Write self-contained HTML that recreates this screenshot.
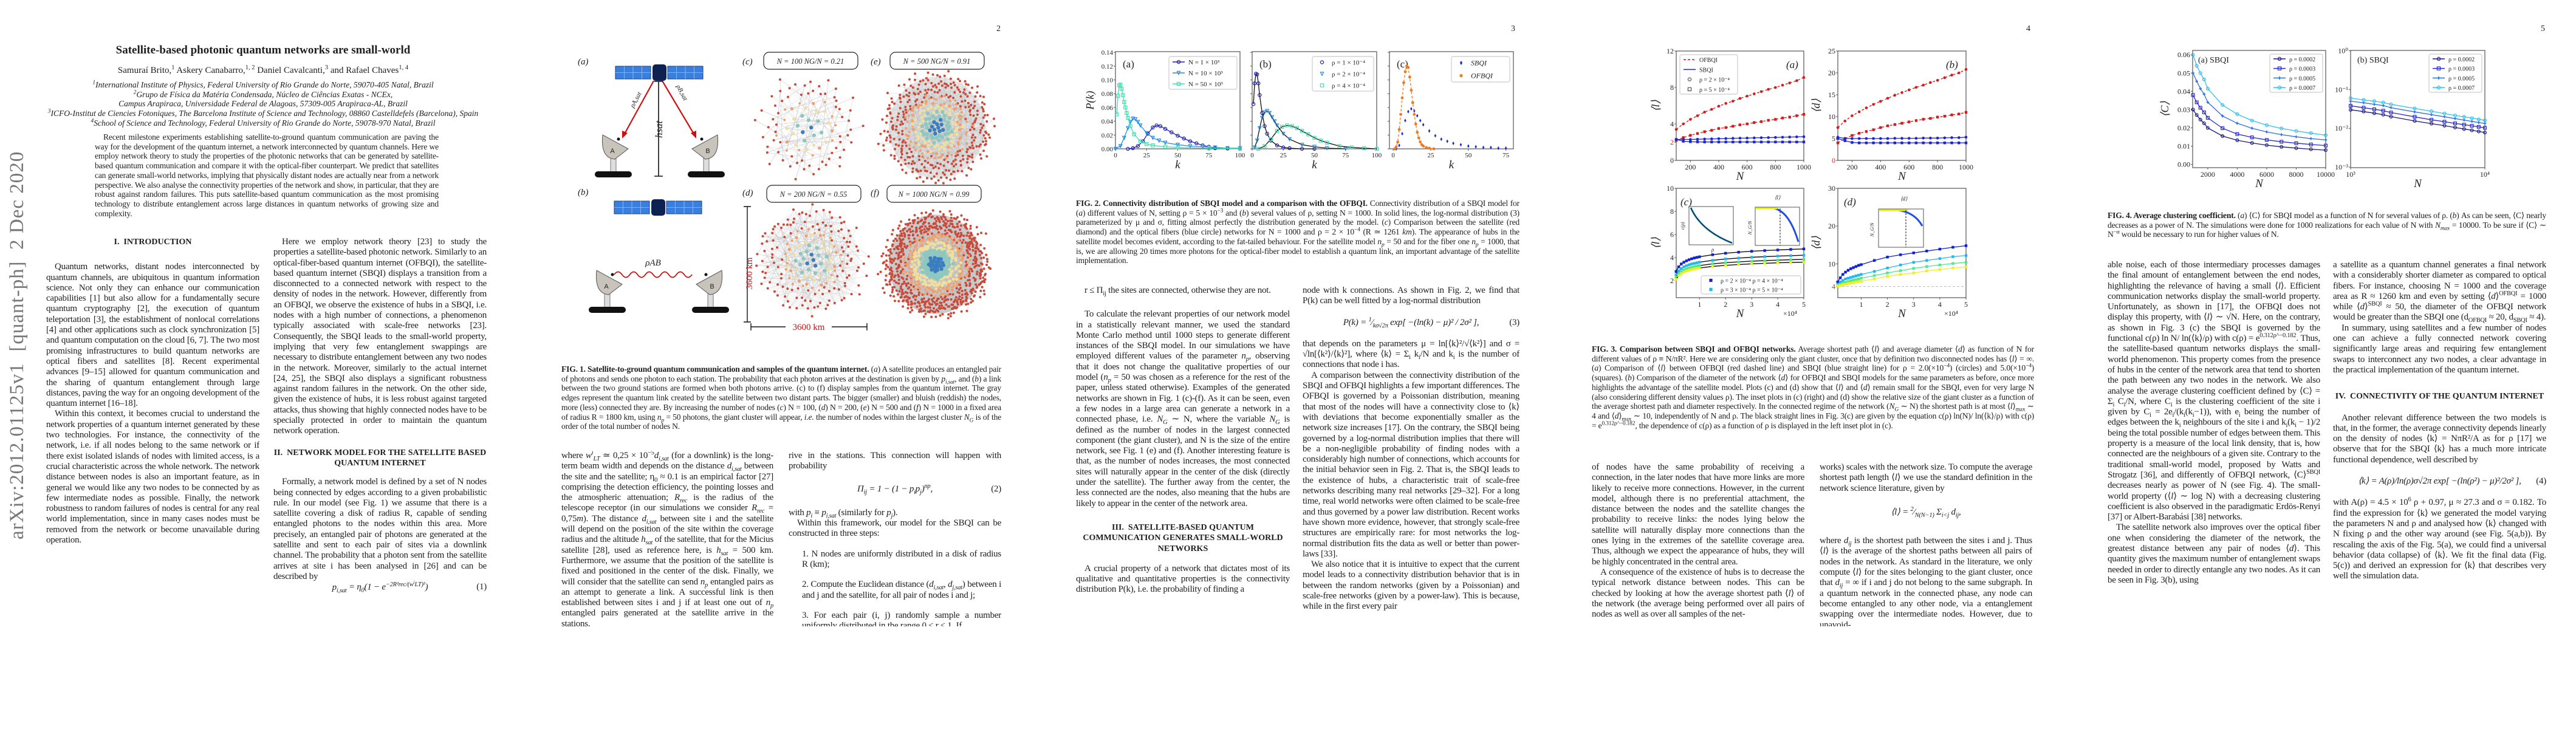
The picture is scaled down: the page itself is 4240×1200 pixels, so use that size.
<!DOCTYPE html>
<html><head><meta charset="utf-8"><title>Satellite-based photonic quantum networks are small-world</title>
<style>
html,body{margin:0;padding:0;background:#fff;}
body{width:4240px;height:1200px;position:relative;overflow:hidden;font-family:"Liberation Serif",serif;color:#1e1e1e;}
.abs{position:absolute;}
sup,sub{line-height:0;font-size:70%;}
.col{position:absolute;font-size:15px;line-height:17.3px;text-align:justify;hyphens:auto;overflow:hidden;letter-spacing:-0.25px;}
.col p{margin:0;text-indent:14px;}
.cap{position:absolute;font-size:13.6px;line-height:15.7px;text-align:justify;overflow:hidden;letter-spacing:-0.2px;}
.head{text-align:center;font-weight:bold;font-size:14px;margin:14px 0 12px 0;text-indent:0 !important;letter-spacing:0;}
.eq{text-align:center;margin:12px 0;text-indent:0 !important;font-style:italic;position:relative;}
.eq span{position:absolute;right:0;font-style:normal;}
.pn{position:absolute;top:40px;font-size:14px;}
i{font-style:italic;}
</style></head>
<body>
<svg id="figures" class="abs" style="left:0;top:0" width="4240" height="1200" viewBox="0 0 4240 1200" font-family="Liberation Serif, serif"></svg>

<!-- PAGE 1 -->
<div class="abs" style="left:-230px;top:608px;width:520px;height:40px;transform:rotate(-90deg);font-size:33px;color:#777;text-align:center;white-space:nowrap;letter-spacing:1px;">arXiv:2012.01125v1 &nbsp;[quant-ph] &nbsp;2 Dec 2020</div>
<div class="abs" style="left:100px;top:72px;width:666px;text-align:center;font-weight:bold;font-size:19px;">Satellite-based photonic quantum networks are small-world</div>
<div class="abs" style="left:100px;top:108px;width:666px;text-align:center;font-size:15px;">Samuraí Brito,<sup>1</sup> Askery Canabarro,<sup>1, 2</sup> Daniel Cavalcanti,<sup>3</sup> and Rafael Chaves<sup>1, 4</sup></div>
<div class="abs" style="left:60px;top:132px;width:746px;text-align:center;font-size:13.5px;line-height:15.7px;font-style:italic;">
<sup>1</sup>International Institute of Physics, Federal University of Rio Grande do Norte, 59070-405 Natal, Brazil<br>
<sup>2</sup>Grupo de Física da Matéria Condensada, Núcleo de Ciências Exatas - NCEx,<br>
Campus Arapiraca, Universidade Federal de Alagoas, 57309-005 Arapiraca-AL, Brazil<br>
<sup>3</sup>ICFO-Institut de Ciencies Fotoniques, The Barcelona Institute of Science and Technology, 08860 Castelldefels (Barcelona), Spain<br>
<sup>4</sup>School of Science and Technology, Federal University of Rio Grande do Norte, 59078-970 Natal, Brazil</div>
<div class="cap" style="left:156px;top:218px;width:566px;height:145px;text-indent:14px;">Recent milestone experiments establishing satellite-to-ground quantum communication are paving the way for the development of the quantum internet, a network interconnected by quantum channels. Here we employ network theory to study the properties of the photonic networks that can be generated by satellite-based quantum communication and compare it with the optical-fiber counterpart. We predict that satellites can generate small-world networks, implying that physically distant nodes are actually near from a network perspective. We also analyse the connectivity properties of the network and show, in particular, that they are robust against random failures. This puts satellite-based quantum communication as the most promising technology to distribute entanglement across large distances in quantum networks of growing size and complexity.</div>

<div class="col" style="left:76px;top:386px;width:351px;height:645px;">
<p class="head" style="margin-top:4px;margin-bottom:24px;">I. &nbsp;INTRODUCTION</p>
<p>Quantum networks, distant nodes interconnected by quantum channels, are ubiquitous in quantum information science. Not only they can enhance our communication capabilities [1] but also allow for a fundamentally secure quantum cryptography [2], the execution of quantum teleportation [3], the establishment of nonlocal correlations [4] and other applications such as clock synchronization [5] and quantum computation on the cloud [6, 7]. The two most promising infrastructures to build quantum networks are optical fibers and satellites [8]. Recent experimental advances [9–15] allowed for quantum communication and the sharing of quantum entanglement through large distances, paving the way for an ongoing development of the quantum internet [16–18].</p>
<p>Within this context, it becomes crucial to understand the network properties of a quantum internet generated by these two technologies. For instance, the connectivity of the network, i.e. if all nodes belong to the same network or if there exist isolated islands of nodes with limited access, is a crucial characteristic across the whole network. The network distance between nodes is also an important feature, as in general we would like any two nodes to be connected by as few intermediate nodes as possible. Finally, the network robustness to random failures of nodes is central for any real world implementation, since in many cases nodes must be removed from the network or become unavailable during operation.</p>
</div>

<div class="col" style="left:450px;top:390px;width:351px;height:641px;">
<p>Here we employ network theory [23] to study the properties a satellite-based photonic network. Similarly to an optical-fiber-based quantum internet (OFBQI), the satellite-based quantum internet (SBQI) displays a transition from a disconnected to a connected network with respect to the density of nodes in the network. However, differently from an OFBQI, we observe the existence of hubs in a SBQI, i.e. nodes with a high number of connections, a phenomenon typically associated with scale-free networks [23]. Consequently, the SBQI leads to the small-world property, implying that very few entanglement swappings are necessary to distribute entanglement between any two nodes in the network. Moreover, similarly to the actual internet [24, 25], the SBQI also displays a significant robustness against random failures in the network. On the other side, given the existence of hubs, it is less robust against targeted attacks, thus showing that highly connected nodes have to be specially protected in order to maintain the quantum network operation.</p>
<p class="head" style="margin-top:18px;margin-bottom:14px;">II. &nbsp;NETWORK MODEL FOR THE SATELLITE BASED QUANTUM INTERNET</p>
<p>Formally, a network model is defined by a set of N nodes being connected by edges according to a given probabilistic rule. In our model (see Fig. 1) we assume that there is a satellite covering a disk of radius R, capable of sending entangled photons to the nodes within this area. More precisely, an entangled pair of photons are generated at the satellite and sent to each pair of sites via a downlink channel. The probability that a photon sent from the satellite arrives at site i has been analysed in [26] and can be described by</p>
<p class="eq"><i>p<sub>i,sat</sub></i> = η<sub>0</sub>(1 − <i>e</i><sup>−2R²rec/(w<sup>i</sup>LT)²</sup>) <span>(1)</span></p>
</div>

<!-- PAGE 2 -->
<div class="pn" style="left:1640px;">2</div>
<div class="cap" style="left:924px;top:600px;width:724px;height:128px;"><b>FIG. 1. Satellite-to-ground quantum communication and samples of the quantum internet.</b> (<i>a</i>) A satellite produces an entangled pair of photons and sends one photon to each station. The probability that each photon arrives at the destination is given by <i>p<sub>i,sat</sub></i>, and (<i>b</i>) a link between the two ground stations are formed when both photons arrive. (c) to (f) display samples from the quantum internet. The gray edges represent the quantum link created by the satellite between two distant parts. The bigger (smaller) and bluish (reddish) the nodes, more (less) connected they are. By increasing the number of nodes (<i>c</i>) N = 100, (<i>d</i>) N = 200, (<i>e</i>) N = 500 and (<i>f</i>) N = 1000 in a fixed area of radius R = 1800 km, using <i>n<sub>p</sub></i> = 50 photons, the giant cluster will appear, <i>i.e.</i> the number of nodes within the largest cluster <i>N<sub>G</sub></i> is of the order of the total number of nodes N.</div>
<div class="col" style="left:924px;top:742px;width:349px;height:289px;">
<p style="text-indent:0">where <i>w<sup>i</sup><sub>LT</sub></i> ≃ 0,25 × 10<sup>−5</sup><i>d<sub>i,sat</sub></i> (for a downlink) is the long-term beam width and depends on the distance <i>d<sub>i,sat</sub></i> between the site and the satellite; η<sub>0</sub> ≈ 0.1 is an empirical factor [27] comprising the detection efficiency, the pointing losses and the atmospheric attenuation; <i>R<sub>rec</sub></i> is the radius of the telescope receptor (in our simulations we consider <i>R<sub>rec</sub></i> = 0,75<i>m</i>). The distance <i>d<sub>i,sat</sub></i> between site i and the satellite will depend on the position of the site within the coverage radius and the altitude <i>h<sub>sat</sub></i> of the satellite, that for the Micius satellite [28], used as reference here, is <i>h<sub>sat</sub></i> = 500 km. Furthermore, we assume that the position of the satellite is fixed and positioned in the center of the disk. Finally, we will consider that the satellite can send <i>n<sub>p</sub></i> entangled pairs as an attempt to generate a link. A successful link is then established between sites i and j if at least one out of <i>n<sub>p</sub></i> entangled pairs generated at the satellite arrive in the stations.</p>
</div>
<div class="col" style="left:1298px;top:742px;width:350px;height:289px;">
<p style="text-indent:0">rive in the stations. This connection will happen with probability</p>
<p class="eq" style="margin:20px 0 22px 0">Π<sub>ij</sub> = 1 − (1 − <i>p<sub>i</sub>p<sub>j</sub></i>)<sup><i>np</i></sup>, <span>(2)</span></p>
<p style="text-indent:0">with <i>p<sub>i</sub></i> ≡ <i>p<sub>i,sat</sub></i> (similarly for <i>p<sub>j</sub></i>).</p>
<p>Within this framework, our model for the SBQI can be constructed in three steps:</p>
<p style="text-indent:0;margin:16px 0 0 22px;">1. N nodes are uniformly distributed in a disk of radius R (km);</p>
<p style="text-indent:0;margin:16px 0 0 22px;">2. Compute the Euclidean distance (<i>d<sub>i,sat</sub></i>, <i>d<sub>j,sat</sub></i>) between i and j and the satellite, for all pair of nodes i and j;</p>
<p style="text-indent:0;margin:16px 0 0 22px;">3. For each pair (i, j) randomly sample a number uniformly distributed in the range 0 ≤ r ≤ 1. If</p>
</div>

<!-- PAGE 3 -->
<div class="pn" style="left:2487px;">3</div>
<div class="cap" style="left:1771px;top:327px;width:730px;height:112px;"><b>FIG. 2. Connectivity distribution of SBQI model and a comparison with the OFBQI.</b> Connectivity distribution of a SBQI model for (<i>a</i>) different values of N, setting ρ = 5 × 10<sup>−3</sup> and (<i>b</i>) several values of ρ, setting N = 1000. In solid lines, the log-normal distribution (3) parameterized by μ and σ, fitting almost perfectly the distribution generated by the model. (<i>c</i>) Comparison between the satellite (red diamond) and the optical fibers (blue circle) networks for N = 1000 and ρ = 2 × 10<sup>−4</sup> (R ≃ 1261 <i>km</i>). The appearance of hubs in the satellite model becomes evident, according to the fat-tailed behaviour. For the satellite model <i>n<sub>p</sub></i> = 50 and for the fiber one <i>n<sub>p</sub></i> = 1000, that is, we are allowing 20 times more photons for the optical-fiber model to establish a quantum link, an important advantage of the satellite implementation.</div>
<div class="col" style="left:1771px;top:470px;width:352px;height:561px;">
<p>r ≤ Π<sub>ij</sub> the sites are connected, otherwise they are not.</p>
<p style="margin-top:22px">To calculate the relevant properties of our network model in a statistically relevant manner, we used the standard Monte Carlo method until 1000 steps to generate different instances of the SBQI model. In our simulations we have employed different values of the parameter <i>n<sub>p</sub></i>, observing that it does not change the qualitative properties of our model (<i>n<sub>p</sub></i> = 50 was chosen as a reference for the rest of the paper, unless stated otherwise). Examples of the generated networks are shown in Fig. 1 (c)-(f). As it can be seen, even a few nodes in a large area can generate a network in a connected phase, i.e. <i>N<sub>G</sub></i> ∼ N, where the variable <i>N<sub>G</sub></i> is defined as the number of nodes in the largest connected component (the giant cluster), and N is the size of the entire network, see Fig. 1 (e) and (f). Another interesting feature is that, as the number of nodes increases, the most connected sites will naturally appear in the center of the disk (directly under the satellite). The further away from the center, the less connected are the nodes, also meaning that the hubs are likely to appear in the center of the network area.</p>
<p class="head" style="margin-top:22px;margin-bottom:16px;">III. &nbsp;SATELLITE-BASED QUANTUM COMMUNICATION GENERATES SMALL-WORLD NETWORKS</p>
<p>A crucial property of a network that dictates most of its qualitative and quantitative properties is the connectivity distribution P(k), i.e. the probability of finding a</p>
</div>
<div class="col" style="left:2144px;top:470px;width:357px;height:561px;">
<p style="text-indent:0">node with k connections. As shown in Fig. 2, we find that P(k) can be well fitted by a log-normal distribution</p>
<p class="eq" style="margin:18px 0 18px 0">P(k) = <sup>1</sup>⁄<sub>kσ√2π</sub> exp[ −(ln(k) − μ)² / 2σ² ], <span>(3)</span></p>
<p style="text-indent:0">that depends on the parameters μ = ln[⟨k⟩²/√⟨k²⟩] and σ = √ln[⟨k²⟩/⟨k⟩²], where ⟨k⟩ = Σ<sub>i</sub> k<sub>i</sub>/N and k<sub>i</sub> is the number of connections that node i has.</p>
<p>A comparison between the connectivity distribution of the SBQI and OFBQI highlights a few important differences. The OFBQI is governed by a Poissonian distribution, meaning that most of the nodes will have a connectivity close to ⟨k⟩ with deviations that become exponentially smaller as the network size increases [17]. On the contrary, the SBQI being governed by a log-normal distribution implies that there will be a non-negligible probability of finding nodes with a considerably high number of connections, which accounts for the initial behavior seen in Fig. 2. That is, the SBQI leads to the existence of hubs, a characteristic trait of scale-free networks describing many real networks [29–32]. For a long time, real world networks were often claimed to be scale-free and thus governed by a power law distribution. Recent works have shown more evidence, however, that strongly scale-free structures are empirically rare: for most networks the log-normal distribution fits the data as well or better than power-laws [33].</p>
<p>We also notice that it is intuitive to expect that the current model leads to a connectivity distribution behavior that is in between the random networks (given by a Poissonian) and scale-free networks (given by a power-law). This is because, while in the first every pair</p>
</div>

<!-- PAGE 4 -->
<div class="pn" style="left:3335px;">4</div>
<div class="cap" style="left:2620px;top:567px;width:728px;height:162px;"><b>FIG. 3. Comparison between SBQI and OFBQI networks.</b> Average shortest path ⟨<i>l</i>⟩ and average diameter ⟨<i>d</i>⟩ as function of N for different values of ρ ≡ N/πR². Here we are considering only the giant cluster, once that by definition two disconnected nodes has ⟨<i>l</i>⟩ = ∞. (<i>a</i>) Comparison of ⟨<i>l</i>⟩ between OFBQI (red dashed line) and SBQI (blue straight line) for ρ = 2.0(×10<sup>−4</sup>) (circles) and 5.0(×10<sup>−4</sup>) (squares). (<i>b</i>) Comparison of the diameter of the network ⟨<i>d</i>⟩ for OFBQI and SBQI models for the same parameters as before, once more highlights the advantage of the satellite model. Plots (c) and (d) show that ⟨<i>l</i>⟩ and ⟨<i>d</i>⟩ remain small for the SBQI, even for very large N (also considering different density values ρ). The inset plots in (c) (right) and (d) show the relative size of the giant cluster as a function of the average shortest path and diameter respectively. In the connected regime of the network (<i>N<sub>G</sub></i> ∼ N) the shortest path is at most ⟨<i>l</i>⟩<sub>max</sub> ∼ 4 and ⟨<i>d</i>⟩<sub>max</sub> ∼ 10, independently of N and ρ. The black straight lines in Fig. 3(c) are given by the equation c(ρ) ln(N)/ ln(⟨k⟩/ρ) with c(ρ) = e<sup>0.312ρ^−0.182</sup>, the dependence of c(ρ) as a function of ρ is displayed in the left inset plot in (c).</div>
<div class="col" style="left:2620px;top:761px;width:350px;height:270px;">
<p style="text-indent:0">of nodes have the same probability of receiving a connection, in the later nodes that have more links are more likely to receive more connections. However, in the current model, although there is no preferential attachment, the distance between the nodes and the satellite changes the probability to receive links: the nodes lying below the satellite will naturally display more connections than the ones lying in the extremes of the satellite coverage area. Thus, although we expect the appearance of hubs, they will be highly concentrated in the central area.</p>
<p>A consequence of the existence of hubs is to decrease the typical network distance between nodes. This can be checked by looking at how the average shortest path ⟨<i>l</i>⟩ of the network (the average being performed over all pairs of nodes as well as over all samples of the net-</p>
</div>
<div class="col" style="left:2995px;top:761px;width:350px;height:270px;">
<p style="text-indent:0">works) scales with the network size. To compute the average shortest path length ⟨<i>l</i>⟩ we use the standard definition in the network science literature, given by</p>
<p class="eq" style="margin:22px 0 30px 0">⟨<i>l</i>⟩ = <sup>2</sup>⁄<sub>N(N−1)</sub> Σ<sub>i&lt;j</sub> <i>d<sub>ij</sub></i>,</p>
<p style="text-indent:0">where <i>d<sub>ij</sub></i> is the shortest path between the sites i and j. Thus ⟨<i>l</i>⟩ is the average of the shortest paths between all pairs of nodes in the network. As standard in the literature, we only compute ⟨<i>l</i>⟩ for the sites belonging to the giant cluster, once that <i>d<sub>ij</sub></i> = ∞ if i and j do not belong to the same subgraph. In a quantum network in the connected phase, any node can become entangled to any other node, via a entanglement swapping over the intermediate nodes. However, due to unavoid-</p>
</div>

<!-- PAGE 5 -->
<div class="pn" style="left:4182px;">5</div>
<div class="cap" style="left:3469px;top:347px;width:722px;height:50px;"><b>FIG. 4. Average clustering coefficient.</b> (<i>a</i>) ⟨C⟩ for SBQI model as a function of N for several values of ρ. (<i>b</i>) As can be seen, ⟨C⟩ nearly decreases as a power of N. The simulations were done for 1000 realizations for each value of N with <i>N<sub>max</sub></i> = 10000. To be sure if ⟨C⟩ ∼ N<sup>−α</sup> would be necessary to run for higher values of N.</div>
<div class="col" style="left:3469px;top:428px;width:350px;height:603px;">
<p style="text-indent:0">able noise, each of those intermediary processes damages the final amount of entanglement between the end nodes, highlighting the relevance of having a small ⟨<i>l</i>⟩. Efficient communication networks display the small-world property. Unfortunately, as shown in [17], the OFBQI does not display this property, with ⟨<i>l</i>⟩ ∼ √N. Here, on the contrary, as shown in Fig. 3 (c) the SBQI is governed by the functional c(ρ) ln N/ ln(⟨k⟩/ρ) with c(ρ) = e<sup>0.312ρ^−0.182</sup>. Thus, the satellite-based quantum networks displays the small-world phenomenon. This property comes from the presence of hubs in the center of the network area that tend to shorten the path between any two nodes in the network. We also analyse the average clustering coefficient defined by ⟨C⟩ = Σ<sub>i</sub> C<sub>i</sub>/N, where C<sub>i</sub> is the clustering coefficient of the site i given by C<sub>i</sub> = 2e<sub>i</sub>/(k<sub>i</sub>(k<sub>i</sub>−1)), with e<sub>i</sub> being the number of edges between the k<sub>i</sub> neighbours of the site i and k<sub>i</sub>(k<sub>i</sub> − 1)/2 being the total possible number of edges between them. This property is a measure of the local link density, that is, how connected are the neighbours of a given site. Contrary to the traditional small-world model, proposed by Watts and Strogatz [36], and differently of OFBQI network, ⟨C⟩<sup>SBQI</sup> decreases nearly as power of N (see Fig. 4). The small-world property (⟨<i>l</i>⟩ ∼ log N) with a decreasing clustering coefficient is also observed in the paradigmatic Erdös-Renyi [37] or Albert-Barabási [38] networks.</p>
<p>The satellite network also improves over the optical fiber one when considering the diameter of the network, the greatest distance between any pair of nodes ⟨<i>d</i>⟩. This quantity gives the maximum number of entanglement swaps needed in order to directly entangle any two nodes. As it can be seen in Fig. 3(b), using</p>
</div>
<div class="col" style="left:3840px;top:428px;width:351px;height:603px;">
<p style="text-indent:0">a satellite as a quantum channel generates a final network with a considerably shorter diameter as compared to optical fibers. For instance, choosing N = 1000 and the coverage area as R ≈ 1260 km and even by setting ⟨<i>d</i>⟩<sup>OFBQI</sup> = 1000 while ⟨<i>d</i>⟩<sup>SBQI</sup> ≈ 50, the diameter of the OFBQI network would be greater than the SBQI one (d<sub>OFBQI</sub> ≈ 20, d<sub>SBQI</sub> ≈ 4).</p>
<p>In summary, using satellites and a few number of nodes one can achieve a fully connected network covering significantly large areas and requiring few entanglement swaps to interconnect any two nodes, a clear advantage in the practical implementation of the quantum internet.</p>
<p class="head" style="margin-top:26px;margin-bottom:18px;">IV. &nbsp;CONNECTIVITY OF THE QUANTUM INTERNET</p>
<p>Another relevant difference between the two models is that, in the former, the average connectivity depends linearly on the density of nodes ⟨k⟩ = NπR²/A as for ρ [17] we observe that for the SBQI ⟨k⟩ has a much more intricate functional dependence, well described by</p>
<p class="eq" style="margin:18px 0 18px 0">⟨k⟩ = A(ρ)/ln(ρ)σ√2π exp[ −(ln(ρ²) − μ)²/2σ² ], <span>(4)</span></p>
<p style="text-indent:0">with A(ρ) = 4.5 × 10<sup>6</sup> ρ + 0.97, μ ≈ 27.3 and σ = 0.182. To find the expression for ⟨k⟩ we generated the model varying the parameters N and ρ and analysed how ⟨k⟩ changed with N fixing ρ and the other way around (see Fig. 5(a,b)). By rescaling the axis of the Fig. 5(a), we could find a universal behavior (data collapse) of ⟨k⟩. We fit the final data (Fig. 5(c)) and derived an expression for ⟨k⟩ that describes very well the simulation data.</p>
</div>

<script>
// ================= DATA =================
const f2a_k1 = [10,14,18,22,26,30,33,36,40,45,50,55,60,65,70,75,80,90,100];
const f2a_p1 = [0,0.001,0.004,0.011,0.022,0.031,0.034,0.033,0.029,0.024,0.019,0.015,0.011,0.008,0.005,0.003,0.001,0.0005,0];
const f2a_k2 = [0,4,7,10,12,14,16,18,20,25,30,35,40,50,60,70,80,90,100];
const f2a_p2 = [0,0.004,0.016,0.03,0.039,0.044,0.043,0.039,0.034,0.023,0.016,0.012,0.009,0.006,0.004,0.003,0.002,0.001,0.001];
const f2a_k3 = [1,2,3,4,5,6,7,8,9,10,12,15,20,25,30,40,50,75,100];
const f2a_p3 = [0.05,0.077,0.092,0.093,0.087,0.078,0.068,0.06,0.052,0.045,0.033,0.021,0.011,0.007,0.005,0.003,0.002,0.001,0];
const f2b_k1 = [1,2,3,4,5,6,8,10,12,15,20,25,30,40,50];
const f2b_p1 = [0.065,0.095,0.109,0.108,0.095,0.078,0.052,0.033,0.022,0.012,0.005,0.002,0.001,0,0];
const f2b_k2 = [2,4,6,8,10,12,14,16,18,20,25,30,40,50,60,75];
const f2b_p2 = [0.002,0.012,0.03,0.045,0.053,0.055,0.052,0.046,0.04,0.034,0.022,0.014,0.006,0.003,0.001,0];
const f2b_k3 = [5,10,15,20,24,28,32,36,40,45,50,55,60,70,80,90,100];
const f2b_p3 = [0.0,0.004,0.014,0.026,0.032,0.034,0.033,0.03,0.026,0.021,0.016,0.012,0.009,0.004,0.002,0.001,0];
const f2c_k_s = [2,4,6,8,10,12,14,16,18,20,24,28,32,36,40,45,50,55,60,65,70,75];
const f2c_p_s = [0,0.005,0.022,0.041,0.054,0.058,0.055,0.048,0.041,0.035,0.026,0.019,0.014,0.011,0.008,0.006,0.004,0.003,0.002,0.002,0.001,0.001];
const f2c_k_o = [1,2,3,4,5,6,7,8,9,10,11,12,13,14,15,16,17,18,19,20,22,24,27];
const f2c_p_o = [0,0.003,0.01,0.028,0.05,0.074,0.096,0.112,0.12,0.118,0.104,0.085,0.067,0.05,0.036,0.024,0.016,0.01,0.006,0.004,0.002,0.001,0];
const f3_N = [100,150,200,250,300,350,400,450,500,550,600,650,700,750,800,850,900,950,1000];
const f3a_of_c = [3.4,4.0,4.5,4.9,5.3,5.6,5.95,6.25,6.5,6.8,7.05,7.3,7.55,7.8,8.0,8.25,8.5,8.75,9.1];
const f3a_of_s = [2.2,2.5,2.75,2.95,3.15,3.3,3.5,3.6,3.75,3.9,4.0,4.15,4.25,4.4,4.5,4.65,4.75,4.9,5.05];
const f3a_sb_c = [2.3,2.3,2.3,2.32,2.34,2.36,2.38,2.4,2.42,2.44,2.45,2.47,2.49,2.5,2.52,2.54,2.56,2.58,2.6];
const f3a_sb_s = [2.3,2.1,2.05,2.03,2.02,2.02,2.02,2.02,2.02,2.02,2.02,2.02,2.02,2.02,2.02,2.02,2.02,2.02,2.02];
const f3b_of_c = [7.5,9.0,10.2,11.1,12.0,12.8,13.5,14.2,14.9,15.5,16.1,16.7,17.2,17.8,18.3,18.9,19.5,20.0,20.8];
const f3b_of_s = [4.0,5.0,5.7,6.2,6.6,7.0,7.5,7.9,8.2,8.5,8.8,9.1,9.4,9.6,9.9,10.1,10.4,10.6,11.0];
const f3b_sb_c = [5.3,5.0,5.0,5.0,5.0,5.0,5.0,5.0,5.05,5.05,5.05,5.05,5.1,5.1,5.1,5.15,5.2,5.2,5.3];
const f3b_sb_s = [5.0,4.5,4.1,4.0,4.0,4.0,4.0,4.0,4.0,4.0,4.0,4.0,4.0,4.0,4.0,4.0,4.0,4.0,4.0];
const f3_Nbig = [1000,2000,3000,4000,5000,6000,7000,8000,9000,10000,15000,20000,25000,30000,35000,40000,45000,50000];
const f3c_r2 = [2.8,3.2,3.45,3.6,3.72,3.82,3.9,3.97,4.02,4.07,4.25,4.38,4.47,4.55,4.61,4.66,4.71,4.75];
const f3c_r3 = [2.5,2.85,3.05,3.2,3.3,3.38,3.45,3.5,3.55,3.6,3.76,3.88,3.96,4.03,4.08,4.13,4.17,4.2];
const f3c_r4 = [2.3,2.62,2.8,2.93,3.03,3.1,3.16,3.22,3.27,3.31,3.46,3.56,3.63,3.69,3.74,3.78,3.82,3.85];
const f3c_r5 = [2.1,2.45,2.62,2.75,2.84,2.91,2.97,3.02,3.06,3.1,3.24,3.33,3.4,3.46,3.51,3.55,3.58,3.6];
const f3d_r2 = [5.2,6.3,7.2,7.8,8.3,8.7,9.0,9.3,9.6,9.8,10.9,11.8,12.4,12.9,13.4,13.9,14.4,14.8];
const f3d_r3 = [4.6,5.2,5.6,6.0,6.2,6.4,6.6,6.8,7.0,7.2,8.0,8.9,9.7,10.4,10.9,11.4,11.9,12.2];
const f3d_r4 = [4.3,4.6,4.9,5.1,5.3,5.5,5.7,5.8,6.0,6.2,6.9,7.6,8.2,8.8,9.3,9.7,10.1,10.4];
const f3d_r5 = [4.1,4.3,4.5,4.6,4.8,4.9,5.0,5.2,5.3,5.4,6.0,6.7,7.2,7.6,8.1,8.5,8.9,9.2];
const f4_N = [1000,1250,1500,1750,2000,3000,4000,5000,6000,7000,8000,9000,10000];
const f4_r2 = [0.030,0.027,0.0245,0.0225,0.020,0.0155,0.0132,0.0117,0.0105,0.0096,0.0089,0.0083,0.0078];
const f4_r3 = [0.038,0.034,0.031,0.0285,0.0255,0.0198,0.0166,0.0148,0.0134,0.0124,0.0116,0.0109,0.0103];
const f4_r5 = [0.050,0.0455,0.0415,0.0385,0.034,0.0265,0.0225,0.0198,0.0178,0.0163,0.0151,0.0141,0.0134];
const f4_r7 = [0.060,0.054,0.050,0.0465,0.0415,0.0325,0.0275,0.024,0.0215,0.0197,0.0183,0.0171,0.016];
const f2_yticks = [0,0.02,0.04,0.06,0.08,0.10,0.12,0.14];
const f2_ytl = ['0.00','0.02','0.04','0.06','0.08','0.10','0.12','0.14'];
const f2ab_xticks = [0,25,50,75,100];
const f2c_xticks = [0,25,50,75];
const f3a_yticks = [0,2,4,8,12];
const f3b_yticks = [0,5,10,15,20,25];
const f3ab_xticks = [200,400,600,800,1000];
const f3c_yticks = [2,4,6,8,10];
const f3d_yticks = [4,10,20,30];
const f3cd_xticks = [10000,20000,30000,40000,50000];
const f3cd_xtl = ['1','2','3','4','5'];
const f4a_yticks = [0,0.01,0.02,0.03,0.04,0.05,0.06];
const f4a_ytl = ['0.00','0.01','0.02','0.03','0.04','0.05','0.06'];
const f4a_xticks = [2000,4000,6000,8000,10000];
const f4b_yticks = [0.001,0.01,0.1,1];
const f4b_ytl = ['10⁻³','10⁻²','10⁻¹','10⁰'];
const f4b_xticks = [1000,10000];
const f4b_xtl = ['10³','10⁴'];

// ================= DRAWING =================
const NS = 'http://www.w3.org/2000/svg';
const svg = document.getElementById('figures');
function mk(tag, a, parent) {
  const e = document.createElementNS(NS, tag);
  for (const k in a) e.setAttribute(k, a[k]);
  (parent || svg).appendChild(e);
  return e;
}
function txt(s, x, y, a, parent) {
  const t = mk('text', Object.assign({x: x, y: y, 'font-size': 11, fill: '#222'}, a || {}), parent);
  t.textContent = s;
  return t;
}
function makePanel(p) {
  const f = v => p.xlog ? Math.log10(v) : v, g = v => p.ylog ? Math.log10(v) : v;
  p.sx = v => p.x + (f(v) - f(p.xd[0])) / (f(p.xd[1]) - f(p.xd[0])) * p.w;
  p.sy = v => p.y + p.h - (g(v) - g(p.yd[0])) / (g(p.yd[1]) - g(p.yd[0])) * p.h;
  const grp = mk('g', {});
  
  
  p.g = grp;
  const fr = mk('rect', {x: p.x, y: p.y, width: p.w, height: p.h, fill: '#fff', stroke: '#555', 'stroke-width': 1.2}, grp);
  
  
  const fs = p.fs || 11;
  p.xt.forEach((t, i) => {
    const X = p.sx(t);
    mk('line', {x1: X, x2: X, y1: p.y + p.h, y2: p.y + p.h + 3, stroke: '#555'}, grp);
    if (p.xtl !== null) {
      const lab = txt(p.xtl ? p.xtl[i] : String(t), X, p.y + p.h + fs + 3, {'text-anchor': 'middle', 'font-size': fs}, grp);
      
      
    }
  });
  p.yt.forEach((t, i) => {
    const Y = p.sy(t);
    mk('line', {x1: p.x - 3, x2: p.x, y1: Y, y2: Y, stroke: '#555'}, grp);
    if (p.ytl !== null) {
      const lab = txt(p.ytl ? p.ytl[i] : String(t), p.x - 4, Y + 4, {'text-anchor': 'end', 'font-size': fs, fill: (p.redY === t ? '#d22' : '#222')}, grp);
      
      
    }
  });
  if (p.xlabel) {
    const xl = txt(p.xlabel, p.x + p.w / 2, p.y + p.h + (p.xlo || 32), {'text-anchor': 'middle', 'font-size': 19, 'font-style': 'italic'}, grp);
    
    
  }
  if (p.ylabel) {
    const yx = p.x - (p.ylo || 34), yy = p.y + p.h / 2;
    const yl = txt(p.ylabel, yx, yy, {'text-anchor': 'middle', 'font-size': 18, 'font-style': 'italic', transform: 'rotate(-90 ' + yx + ' ' + yy + ')'}, grp);
    
    
  }
  if (p.tag) {
    const tg = txt(p.tag, p.x + (p.tagx || 18), p.y + 26, {'font-size': 17}, grp);
    
    
  }
  return p;
}
function marker(g, shape, X, Y, c, r) {
  let m;
  if (shape === 'o') m = mk('circle', {cx: X, cy: Y, r: r, fill: 'none', stroke: c, 'stroke-width': 1.2}, g);
  else if (shape === 'O') m = mk('circle', {cx: X, cy: Y, r: r, fill: c}, g);
  else if (shape === 's') m = mk('rect', {x: X - r, y: Y - r, width: 2 * r, height: 2 * r, fill: 'none', stroke: c, 'stroke-width': 1.2}, g);
  else if (shape === 'S') m = mk('rect', {x: X - r, y: Y - r, width: 2 * r, height: 2 * r, fill: c}, g);
  else if (shape === 'v') m = mk('polygon', {points: (X - r) + ',' + (Y - r) + ' ' + (X + r) + ',' + (Y - r) + ' ' + X + ',' + (Y + r), fill: 'none', stroke: c, 'stroke-width': 1.2}, g);
  else if (shape === 'd') m = mk('polygon', {points: X + ',' + (Y - r * 1.4) + ' ' + (X + r * 0.8) + ',' + Y + ' ' + X + ',' + (Y + r * 1.4) + ' ' + (X - r * 0.8) + ',' + Y, fill: c}, g);
  else if (shape === '+') { m = mk('path', {d: 'M' + (X - r) + ' ' + Y + 'H' + (X + r) + 'M' + X + ' ' + (Y - r) + 'V' + (Y + r), stroke: c, 'stroke-width': 1.5}, g); }
  return m;
}
function series(p, xs, ys, st, name) {
  const g = mk('g', {}, p.g);
  
  
  if (st.line !== false) {
    const pts = xs.map((x, i) => p.sx(x).toFixed(1) + ',' + p.sy(ys[i]).toFixed(1)).join(' ');
    const pl = mk('polyline', {points: pts, fill: 'none', stroke: st.lc || st.c, 'stroke-width': st.lw || 1.3, 'stroke-dasharray': st.dash || 'none'}, g);
    
    
  }
  if (st.m) xs.forEach((x, i) => {
    const mm = marker(g, st.m, p.sx(x), p.sy(ys[i]), st.c, st.r || 2.4);
    
    
  });
}
function legend(x, y, w, h, items, fs, parent, name) {
  const g = mk('g', {}, parent);
  
  
  mk('rect', {x: x, y: y, width: w, height: h, rx: 3, fill: '#fff', stroke: '#ccc', 'stroke-width': 1.2}, g);
  const dy = h / items.length;
  items.forEach((it, i) => {
    const cy = y + dy * (i + 0.5);
    const eg = mk('g', {}, g);
    
    
    if (it.line) mk('line', {x1: x + 6, x2: x + 26, y1: cy, y2: cy, stroke: it.c, 'stroke-width': 1.6, 'stroke-dasharray': it.dash || 'none'}, eg);
    if (it.m) marker(eg, it.m, x + 16, cy, it.c, 2.6);
    txt(it.t, x + 32, cy + 4, {'font-size': fs, 'font-style': it.it ? 'italic' : 'normal'}, eg);
  });
}

// ---- Fig 2 ----
const C1 = '#1f1fb4', C2 = '#2a8ee0', C3 = '#40e0b0', ORG = '#f07a20';
const p2a = makePanel({name: 'fig2a-panel', x: 1836, y: 85, w: 205, h: 160, xd: [0, 100], yd: [0, 0.141], xt: f2ab_xticks, yt: f2_yticks, ytl: f2_ytl, xlabel: 'k', ylabel: 'P(k)', ylo: 36, tag: '(a)', tagx: 12});
series(p2a, f2a_k1, f2a_p1, {c: C1, m: 'o', r: 2.6}, 'series-N-1e3');
series(p2a, f2a_k2, f2a_p2, {c: C2, m: 'v', r: 2.6}, 'series-N-10e3');
series(p2a, f2a_k3, f2a_p3, {c: C3, m: 's', r: 2.6}, 'series-N-50e3');
legend(1924, 93, 112, 54, [{t: 'N = 1 × 10³', c: C1, m: 'o', line: true}, {t: 'N = 10 × 10³', c: C2, m: 'v', line: true}, {t: 'N = 50 × 10³', c: C3, m: 's', line: true}], 11, p2a.g, 'fig2a-legend');
const p2b = makePanel({name: 'fig2b-panel', x: 2061, y: 85, w: 205, h: 160, xd: [0, 100], yd: [0, 0.141], xt: f2ab_xticks, yt: f2_yticks, ytl: null, xlabel: 'k', tag: '(b)', tagx: 12});
series(p2b, f2b_k1, f2b_p1, {c: C1, m: 'o', r: 2.6, lc: '#111'}, 'series-rho-1e-4');
series(p2b, f2b_k2, f2b_p2, {c: C2, m: 'v', r: 2.6, lc: '#111'}, 'series-rho-2e-4');
series(p2b, f2b_k3, f2b_p3, {c: C3, m: 's', r: 2.6, lc: '#111'}, 'series-rho-4e-4');
legend(2160, 93, 101, 57, [{t: 'ρ = 1 × 10⁻⁴', c: C1, m: 'o'}, {t: 'ρ = 2 × 10⁻⁴', c: C2, m: 'v'}, {t: 'ρ = 4 × 10⁻⁴', c: C3, m: 's'}], 11, p2b.g, 'fig2b-legend');
const p2c = makePanel({name: 'fig2c-panel', x: 2287, y: 85, w: 204, h: 160, xd: [-2.5, 80], yd: [0, 0.141], xt: f2c_xticks, yt: f2_yticks, ytl: null, xlabel: 'k', tag: '(c)', tagx: 12});
series(p2c, f2c_k_s, f2c_p_s, {c: '#1a2ad8', m: 'd', r: 2.2, line: false}, 'series-SBQI');
series(p2c, f2c_k_o, f2c_p_o, {c: ORG, m: 'O', r: 2.4, dash: '4,3'}, 'series-OFBQI');
legend(2389, 93, 96, 42, [{t: 'SBQI', c: '#1a2ad8', m: 'd', it: true}, {t: 'OFBQI', c: ORG, m: 'O', it: true}], 12, p2c.g, 'fig2c-legend');

// ---- Fig 3 ----
const RED = '#d41c1c', BLU = '#1c24d8';
const p3a = makePanel({name: 'fig3a-panel', x: 2759, y: 84, w: 210, h: 180, xd: [100, 1000], yd: [0, 12], xt: f3ab_xticks, yt: f3a_yticks, redY: 2, xlabel: 'N', ylabel: '⟨l⟩', ylo: 28, fs: 12});
txt('(a)', 2940, 112, {'font-size': 17, 'font-style': 'italic'}, p3a.g);
series(p3a, f3_N, f3a_of_c, {c: RED, m: 'O', r: 2.3, dash: '4,3'}, 'series-OFBQI-rho2');
series(p3a, f3_N, f3a_of_s, {c: RED, m: 'S', r: 2.2, dash: '4,3'}, 'series-OFBQI-rho5');
series(p3a, f3_N, f3a_sb_c, {c: BLU, m: 'O', r: 2.3}, 'series-SBQI-rho2');
series(p3a, f3_N, f3a_sb_s, {c: BLU, m: 'S', r: 2.2}, 'series-SBQI-rho5');
legend(2765, 90, 95, 65, [{t: 'OFBQI', c: RED, line: true, dash: '4,3'}, {t: 'SBQI', c: BLU, line: true}, {t: 'ρ = 2 × 10⁻⁴', c: '#555', m: 'o'}, {t: 'ρ = 5 × 10⁻⁴', c: '#555', m: 's'}], 10, p3a.g, 'fig3a-legend');
const p3b = makePanel({name: 'fig3b-panel', x: 3025, y: 84, w: 211, h: 180, xd: [100, 1000], yd: [0, 25], xt: f3ab_xticks, yt: f3b_yticks, redY: 0, xlabel: 'N', ylabel: '⟨d⟩', ylo: 30, fs: 12});
txt('(b)', 3203, 112, {'font-size': 17, 'font-style': 'italic'}, p3b.g);
series(p3b, f3_N, f3b_of_c, {c: RED, m: 'O', r: 2.3, dash: '4,3'}, 'series-OFBQI-rho2');
series(p3b, f3_N, f3b_of_s, {c: RED, m: 'S', r: 2.2, dash: '4,3'}, 'series-OFBQI-rho5');
series(p3b, f3_N, f3b_sb_c, {c: BLU, m: 'O', r: 2.3}, 'series-SBQI-rho2');
series(p3b, f3_N, f3b_sb_s, {c: BLU, m: 'S', r: 2.2}, 'series-SBQI-rho5');
const CC = ['#1020d8', '#22b8ee', '#50e890', '#f0f020'];
const p3c = makePanel({name: 'fig3c-panel', x: 2759, y: 310, w: 210, h: 180, xd: [1070, 50000], yd: [0.53, 10], xt: f3cd_xticks, xtl: f3cd_xtl, yt: f3c_yticks, xlabel: 'N', ylabel: '⟨l⟩', ylo: 28, fs: 12});
txt('(c)', 2766, 338, {'font-size': 17, 'font-style': 'italic'}, p3c.g);
txt('×10⁴', 2935, 520, {'font-size': 12}, p3c.g);
[f3c_r2, f3c_r3, f3c_r4, f3c_r5].forEach((s, i) => series(p3c, f3_Nbig, s, {c: CC[i], m: 'S', r: 2.2, lc: '#111', lw: 1.4}, 'series-rho-' + (i + 2) + 'e-4'));
legend(2800, 454, 164, 30, [{t: 'ρ = 2 × 10⁻⁴    ρ = 4 × 10⁻⁴', c: CC[0], m: 'S'}, {t: 'ρ = 3 × 10⁻⁴    ρ = 5 × 10⁻⁴', c: CC[1], m: 'S'}], 10, p3c.g, 'fig3c-legend');
const in1 = mk('g', {}, p3c.g);


mk('rect', {x: 2780, y: 340, width: 73, height: 63, fill: '#fff', stroke: '#555'}, in1);
mk('path', {d: 'M2783 342 Q2800 380 2851 400', fill: 'none', stroke: '#2090c0', 'stroke-width': 3}, in1);
mk('path', {d: 'M2783 342 Q2800 380 2851 400', fill: 'none', stroke: '#111', 'stroke-width': 1}, in1);
txt('c(ρ)', 2772, 378, {'font-size': 8, 'font-style': 'italic', transform: 'rotate(-90 2772 378)'}, in1);
txt('ρ', 2817, 414, {'font-size': 9, 'font-style': 'italic'}, in1);
const in2 = mk('g', {}, p3c.g);


mk('rect', {x: 2889, y: 341, width: 73, height: 63, fill: '#fff', stroke: '#555'}, in2);
mk('path', {d: 'M2890 343 H2920 Q2945 348 2960 398', fill: 'none', stroke: '#2050e0', 'stroke-width': 3}, in2);
mk('path', {d: 'M2890 343 H2925', fill: 'none', stroke: '#e8f020', 'stroke-width': 3}, in2);
mk('line', {x1: 2930, x2: 2930, y1: 343, y2: 404, stroke: '#111', 'stroke-dasharray': '3,2'}, in2);
txt('N_G/N', 2883, 375, {'font-size': 8, 'font-style': 'italic', transform: 'rotate(-90 2883 375)', 'text-anchor': 'middle'}, in2);
txt('⟨l⟩', 2921, 328, {'font-size': 9, 'font-style': 'italic'}, in2);
const p3d = makePanel({name: 'fig3d-panel', x: 3025, y: 310, w: 211, h: 180, xd: [1070, 50000], yd: [1.04, 30], xt: f3cd_xticks, xtl: f3cd_xtl, yt: f3d_yticks, redY: 4, xlabel: 'N', ylabel: '⟨d⟩', ylo: 30, fs: 12});
txt('(d)', 3035, 338, {'font-size': 17, 'font-style': 'italic'}, p3d.g);
txt('×10⁴', 3200, 520, {'font-size': 12}, p3d.g);
mk('line', {x1: 3025, x2: 3236, y1: p3d.sy(4), y2: p3d.sy(4), stroke: '#bbb', 'stroke-dasharray': '4,3'}, p3d.g);
[f3d_r2, f3d_r3, f3d_r4, f3d_r5].forEach((s, i) => series(p3d, f3_Nbig, s, {c: CC[i], m: 'S', r: 2.2}, 'series-rho-' + (i + 2) + 'e-4'));
const in3 = mk('g', {}, p3d.g);


mk('rect', {x: 3092, y: 344, width: 74, height: 63, fill: '#fff', stroke: '#555'}, in3);
mk('path', {d: 'M3093 346 H3125 Q3152 350 3164 372', fill: 'none', stroke: '#2050e0', 'stroke-width': 3}, in3);
mk('path', {d: 'M3093 346 H3140', fill: 'none', stroke: '#e8f020', 'stroke-width': 3}, in3);
mk('line', {x1: 3137, x2: 3137, y1: 346, y2: 407, stroke: '#111', 'stroke-dasharray': '3,2'}, in3);
txt('N_G/N', 3084, 378, {'font-size': 8, 'font-style': 'italic', transform: 'rotate(-90 3084 378)', 'text-anchor': 'middle'}, in3);
txt('⟨d⟩', 3128, 330, {'font-size': 9, 'font-style': 'italic'}, in3);

// ---- Fig 4 ----
const C4 = ['#1a1a80', '#2a2ad0', '#2f70e0', '#30c0f0'];
const S4 = ['o', 's', '+', 'o'];
const p4a = makePanel({name: 'fig4a-panel', x: 3609, y: 83, w: 219, h: 193, xd: [974, 10000], yd: [-0.0018, 0.0624], xt: f4a_xticks, yt: f4a_yticks, ytl: f4a_ytl, xlabel: 'N', ylabel: '⟨C⟩', ylo: 40, fs: 12});
txt('(a) SBQI', 3618, 103, {'font-size': 14}, p4a.g);
[f4_r2, f4_r3, f4_r5, f4_r7].forEach((s, i) => series(p4a, f4_N, s, {c: C4[i], m: S4[i], r: 2.4}, 'series-rho-' + ['0.0002', '0.0003', '0.0005', '0.0007'][i]));
legend(3736, 89, 87, 63, [{t: 'ρ = 0.0002', c: C4[0], m: 'o', line: true}, {t: 'ρ = 0.0003', c: C4[1], m: 's', line: true}, {t: 'ρ = 0.0005', c: C4[2], m: '+', line: true}, {t: 'ρ = 0.0007', c: C4[3], m: 'o', line: true}], 10, p4a.g, 'fig4a-legend');
const p4b = makePanel({name: 'fig4b-panel', x: 3869, y: 83, w: 221, h: 193, xd: [1000, 10000], yd: [0.000968, 1.016], xlog: true, ylog: true, xt: f4b_xticks, xtl: f4b_xtl, yt: f4b_yticks, ytl: f4b_ytl, xlabel: 'N', fs: 12});
txt('(b) SBQI', 3880, 103, {'font-size': 14}, p4b.g);
[f4_r2, f4_r3, f4_r5, f4_r7].forEach((s, i) => series(p4b, f4_N, s, {c: C4[i], m: S4[i], r: 2.4}, 'series-rho-' + ['0.0002', '0.0003', '0.0005', '0.0007'][i]));
legend(3998, 89, 87, 63, [{t: 'ρ = 0.0002', c: C4[0], m: 'o', line: true}, {t: 'ρ = 0.0003', c: C4[1], m: 's', line: true}, {t: 'ρ = 0.0005', c: C4[2], m: '+', line: true}, {t: 'ρ = 0.0007', c: C4[3], m: 'o', line: true}], 10, p4b.g, 'fig4b-legend');

// ---- Fig 1 ----
const f1 = mk('g', {});


function satellite(x, y, nm) {
  const g = mk('g', {}, f1);
  
  
  [[x, 58], [x + 86, 58]].forEach(q => {
    mk('rect', {x: q[0], y: y, width: q[1], height: 21, fill: '#3a7ee0', stroke: '#1d3f7a'}, g);
    for (let k = 1; k < 4; k++) mk('line', {x1: q[0] + k * q[1] / 4, x2: q[0] + k * q[1] / 4, y1: y, y2: y + 21, stroke: '#9cc3f5', 'stroke-width': 0.8}, g);
    mk('line', {x1: q[0], x2: q[0] + q[1], y1: y + 10.5, y2: y + 10.5, stroke: '#9cc3f5', 'stroke-width': 0.8}, g);
  });
  mk('rect', {x: x + 61, y: y - 3, width: 23, height: 27, rx: 5, fill: '#0d2250'}, g);
}
function dish(x, y, label, flip, nm) {
  const g = mk('g', {}, f1);
  
  
  mk('rect', {x: x - 5, y: y + 8, width: 9, height: 25, fill: '#ddd', stroke: '#777'}, g);
  mk('rect', {x: x - 31, y: y + 32, width: 61, height: 10, rx: 5, fill: '#111'}, g);
  const s = flip ? -1 : 1;
  mk('path', {d: 'M' + (x - 18 * s) + ' ' + (y - 28) + ' Q' + (x - 22 * s) + ' ' + (y + 10) + ' ' + (x + 2 * s) + ' ' + (y + 12) + ' L' + (x + 24 * s) + ' ' + (y - 5) + ' Z', fill: '#c8c4bc', stroke: '#555'}, g);
  mk('circle', {cx: x + 8 * s, cy: y - 21, r: 2.5, fill: '#111'}, g);
  txt(label, x - 2 * s, y + 2, {'font-size': 11, 'font-family': 'Liberation Sans, sans-serif', 'text-anchor': 'middle'}, g);
}
txt('(a)', 951, 106, {'font-size': 15, 'font-style': 'italic'}, f1);
txt('(b)', 951, 321, {'font-size': 15, 'font-style': 'italic'}, f1);
satellite(1013, 109, 'satellite-a');
satellite(1011, 331, 'satellite-b');
mk('path', {d: 'M1076 133 L1027 222', stroke: '#d01010', 'stroke-width': 2.2, fill: 'none'}, f1);
mk('path', {d: 'M1090 133 L1143 222', stroke: '#d01010', 'stroke-width': 2.2, fill: 'none'}, f1);
mk('polygon', {points: '1024,228 1024,215 1033,219', fill: '#d01010'}, f1);
mk('polygon', {points: '1146,228 1137,219 1146,215', fill: '#d01010'}, f1);
mk('path', {d: 'M1084 134 V290 M1077 134 H1091 M1077 290 H1091', stroke: '#111', 'stroke-width': 1.6, fill: 'none'}, f1);
txt('hsat', 1090, 227, {'font-size': 17, 'font-style': 'italic', transform: 'rotate(-90 1090 227)'}, f1);
txt('ρA,sat', 1043, 178, {'font-size': 11, 'font-style': 'italic', transform: 'rotate(-62 1043 178)'}, f1);
txt('ρB,sat', 1113, 142, {'font-size': 11, 'font-style': 'italic', transform: 'rotate(62 1113 142)'}, f1);
dish(1010, 250, 'A', false, 'ground-station-a');
dish(1163, 250, 'B', true, 'ground-station-b');
dish(1000, 473, 'A', false, 'ground-station-a-link');
dish(1170, 473, 'B', true, 'ground-station-b-link');
let wd = 'M1011 452';
for (let k = 0; k < 10; k++) wd += ' q' + 6.4 + ' ' + (k % 2 ? 9 : -9) + ' 12.8 0';
mk('path', {d: wd, stroke: '#d01010', 'stroke-width': 1.8, fill: 'none'}, f1);
txt('ρAB', 1075, 437, {'font-size': 15, 'font-style': 'italic', 'text-anchor': 'middle'}, f1);
[['(c)', 1222, 106, 1257, 86, 'N = 100 NG/N = 0.21'], ['(e)', 1433, 106, 1465, 86, 'N = 500 NG/N = 0.91'], ['(d)', 1222, 322, 1262, 305, 'N = 200 NG/N = 0.55'], ['(f)', 1433, 322, 1460, 305, 'N = 1000 NG/N = 0.99']].forEach(b => {
  txt(b[0], b[1], b[2], {'font-size': 15, 'font-style': 'italic'}, f1);
  const bx = mk('rect', {x: b[3], y: b[4], width: 155, height: 28, rx: 9, fill: '#fff', stroke: '#222', 'stroke-width': 1.2}, f1);
  
  
  txt(b[5], b[3] + 77, b[4] + 19, {'font-size': 12.5, 'text-anchor': 'middle', 'font-style': 'italic'}, f1);
});
function cloud(cx, cy, r, n, dens, nm) {
  const g = mk('g', {}, f1);
  
  
  if (dens > 0) mk('ellipse', {cx: cx, cy: cy, rx: r * 0.9, ry: r * 0.95, fill: '#999', opacity: dens}, g);
  const pts = [];
  for (let i = 0; i < n; i++) {
    const a = i * 2.39996, fr = Math.sqrt((i + 0.5) / n);
    const j = Math.sin(i * 12.9898) * 43758.5453; const jj = j - Math.floor(j);
    pts.push([cx + Math.cos(a) * r * fr * (0.85 + 0.3 * jj), cy + Math.sin(a) * r * fr * (0.9 + 0.2 * jj), fr]);
  }
  const ne = Math.min(n * 1.5, 500);
  for (let e = 0; e < ne; e++) {
    const p1 = pts[(e * 7) % n], p2 = pts[(e * 13 + 5) % n];
    mk('line', {x1: p1[0], y1: p1[1], x2: p2[0], y2: p2[1], stroke: '#bbb', 'stroke-width': 0.5, opacity: 0.6}, g);
  }
  for (let i = n - 1; i >= 0; i--) {
    const q = pts[i], fr = q[2];
    const col = fr < 0.15 ? '#3a7ec0' : fr < 0.3 ? '#8cc8c0' : fr < 0.45 ? '#f0e0a0' : fr < 0.6 ? '#f0a070' : '#c84a3a';
    mk('circle', {cx: q[0], cy: q[1], r: fr < 0.3 ? 3.2 : fr < 0.5 ? 2.6 : 2, fill: col}, g);
  }
}
cloud(1330, 210, 85, 100, 0, 'network-sample-N100');
cloud(1542, 210, 88, 500, 0.25, 'network-sample-N500');
cloud(1335, 428, 88, 200, 0.08, 'network-sample-N200');
cloud(1540, 435, 86, 1000, 0.5, 'network-sample-N1000');
mk('path', {d: 'M1230 340 V530 M1224 340 H1236 M1224 530 H1236 M1236 538 H1427 M1236 532 V544 M1427 532 V544', stroke: '#111', 'stroke-width': 1.4, fill: 'none'}, f1);
txt('3600 km', 1238, 450, {'font-size': 15, fill: '#d01010', 'text-anchor': 'middle', transform: 'rotate(-90 1238 450)'}, f1);
mk('rect', {x: 1293, y: 530, width: 76, height: 16, fill: '#fff'}, f1);
txt('3600 km', 1331, 543, {'font-size': 15, fill: '#d01010', 'text-anchor': 'middle'}, f1);
</script>
</body></html>
